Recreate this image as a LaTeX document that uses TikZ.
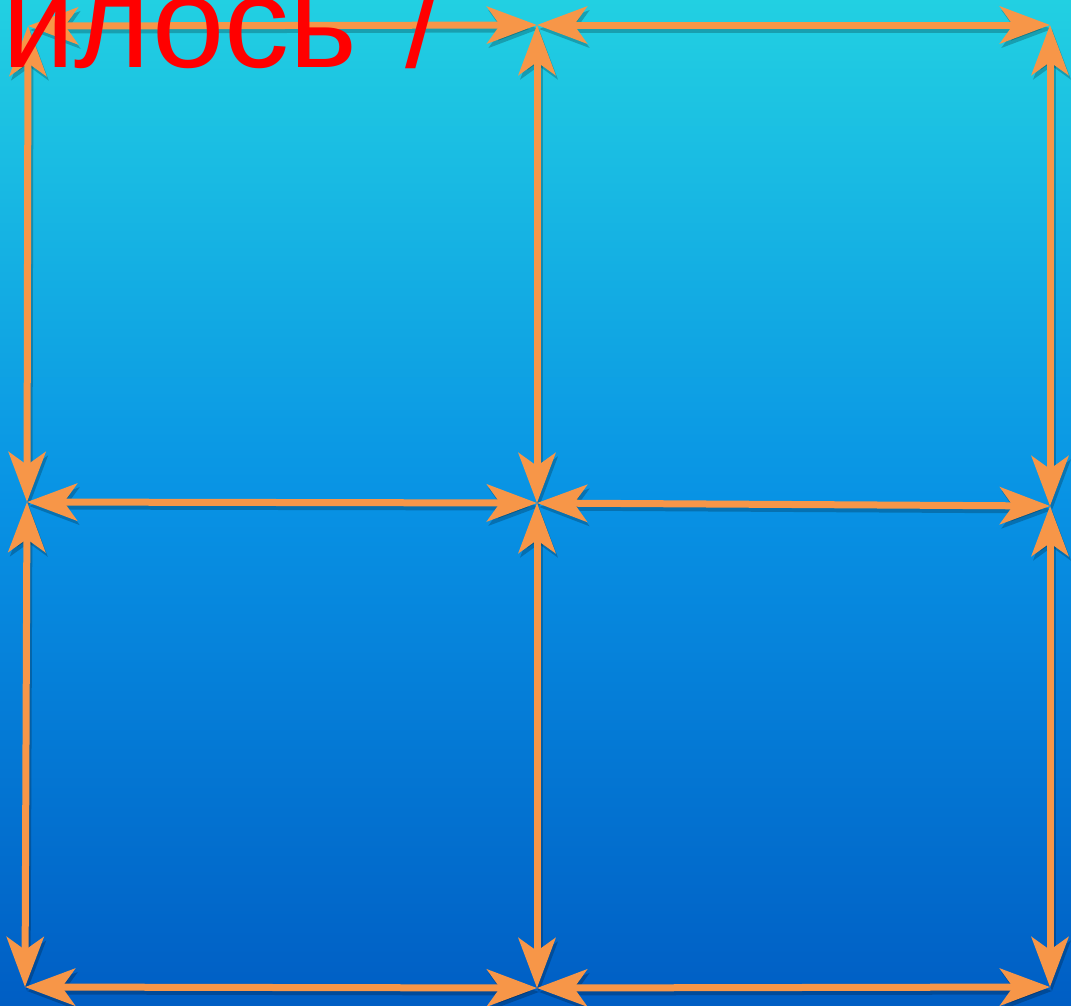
\documentclass[tikz,border=0pt]{standalone}
\usepackage{fontspec}
\setmainfont{Liberation Sans}
\usetikzlibrary{arrows.meta}
\definecolor{arrowc}{RGB}{247,150,72}
\definecolor{bgtop}{RGB}{34,208,226}
\definecolor{bgmid}{RGB}{8,146,228}
\definecolor{bgbot}{RGB}{0,94,196}
\definecolor{txtred}{RGB}{255,0,0}
\tikzset{
  link/.style={line width=7pt, draw=arrowc, {Stealth[length=50pt,width=37pt,inset=13pt]}-{Stealth[length=50pt,width=37pt,inset=13pt]}},
  linkshadow/.style={line width=7pt, draw=black, opacity=0.22, {Stealth[length=50pt,width=37pt,inset=13pt]}-{Stealth[length=50pt,width=37pt,inset=13pt]}, transform canvas={shift={(2pt,-4pt)}}},
  lbl/.style={text=txtred, inner sep=0pt, anchor=base west, font=\fontsize{130}{130}\selectfont}
}
\begin{document}
\begin{tikzpicture}[x=1pt,y=-1pt]
\useasboundingbox (0,0) rectangle (1071,1005);
\clip (0,0) rectangle (1071,1005);
\shade[top color=bgtop, bottom color=bgbot, middle color=bgmid] (0,0) rectangle (1071,1005);
\coordinate (tl) at (28,26);
\coordinate (tm) at (537,25);
\coordinate (tr) at (1050,25);
\coordinate (ml) at (27,502);
\coordinate (mm) at (537,503);
\coordinate (mr) at (1050,506);
\coordinate (bl) at (25,987);
\coordinate (bm) at (537,988);
\coordinate (br) at (1050,987);
\foreach \a/\b in {tl/tm,tm/tr,ml/mm,mm/mr,bl/bm,bm/br,tl/ml,ml/bl,tm/mm,mm/bm,tr/mr,mr/br}{
  \draw[linkshadow] (\a) -- (\b);
}
\foreach \a/\b in {tl/tm,tm/tr,ml/mm,mm/mr,bl/bm,bm/br,tl/ml,ml/bl,tm/mm,mm/bm,tr/mr,mr/br}{
  \draw[link] (\a) -- (\b);
}
\node[lbl] (title) at (2,67) {илось \kern12pt/};
\end{tikzpicture}
\end{document}
